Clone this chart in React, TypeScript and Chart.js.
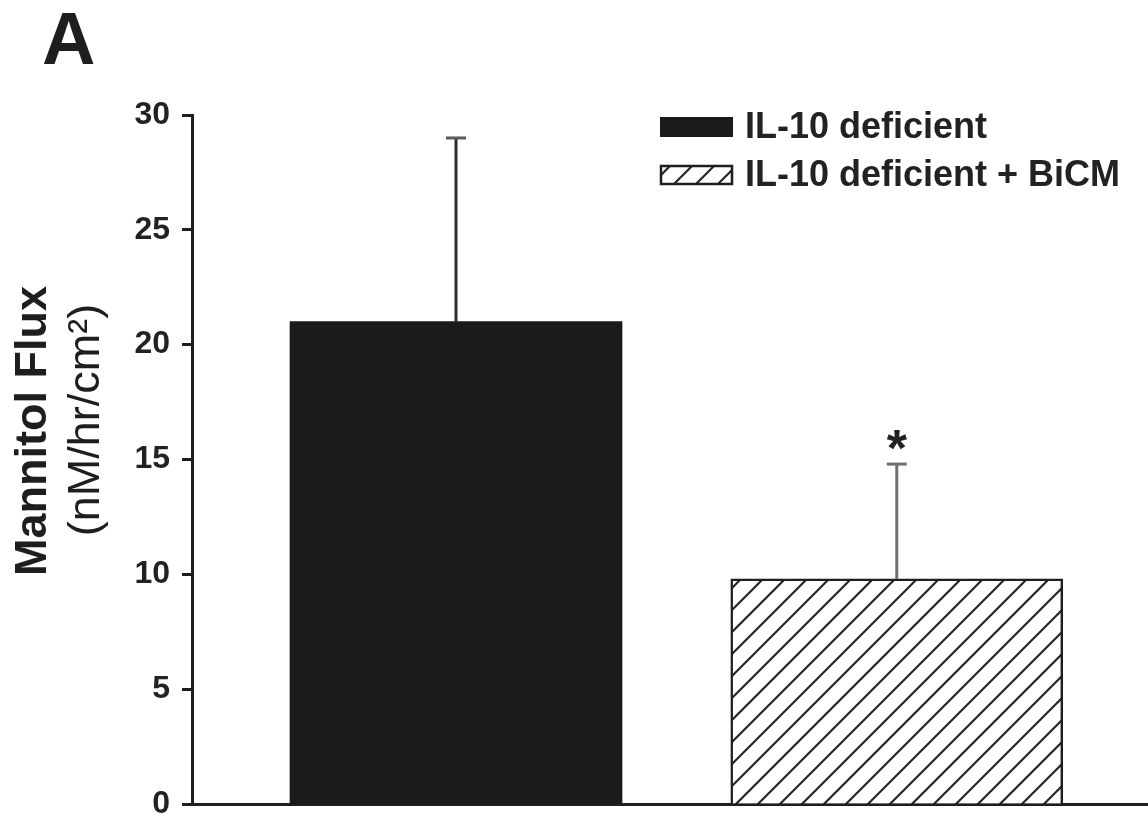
import { useEffect, useRef } from "react";
import { Chart, registerables } from "chart.js";

Chart.register(...registerables);

const categories = ["IL-10 deficient", "IL-10 deficient + BiCM"];
const means = [21.0, 9.8];
const errors = [8.0, 5.0];
const marks = ["", "*"];
const yMin = 0;
const yMax = 30;
const yStep = 5;
const panelLabel = "A";
const yTitleLines = ["Mannitol Flux", "(nM/hr/cm²)"];

const FONT = "'Liberation Sans', Arial, Helvetica, sans-serif";

function makeHatch(): CanvasPattern | string {
  const s = 22;
  const c = document.createElement("canvas");
  c.width = s;
  c.height = s;
  const g = c.getContext("2d");
  if (!g) return "#fff";
  g.fillStyle = "#ffffff";
  g.fillRect(0, 0, s, s);
  g.strokeStyle = "#262626";
  g.lineWidth = 2.2;
  g.lineCap = "square";
  g.beginPath();
  g.moveTo(-2, 2);
  g.lineTo(2, -2);
  g.moveTo(-2, s + 2);
  g.lineTo(s + 2, -2);
  g.moveTo(s - 2, s + 2);
  g.lineTo(s + 2, s - 2);
  g.stroke();
  const p = g.createPattern(c, "repeat");
  return p || "#fff";
}

const errorBarPlugin = {
  id: "errorBars",
  afterDatasetsDraw(chart: any) {
    const ctx = chart.ctx;
    const yScale = chart.scales.y;
    chart.data.datasets.forEach((ds: any, i: number) => {
      const meta = chart.getDatasetMeta(i);
      const el = meta.data[0];
      if (!el) return;
      const x = el.x;
      const yTop = yScale.getPixelForValue(means[i]);
      const yErr = yScale.getPixelForValue(means[i] + errors[i]);
      ctx.save();
      ctx.strokeStyle = i === 0 ? "#2b2b2b" : "#6f6f6f";
      ctx.lineWidth = 3;
      ctx.beginPath();
      ctx.moveTo(x, yTop);
      ctx.lineTo(x, yErr);
      ctx.stroke();
      ctx.strokeStyle = i === 0 ? "#5a5a5a" : "#6f6f6f";
      ctx.beginPath();
      ctx.moveTo(x - 10, yErr);
      ctx.lineTo(x + 10, yErr);
      ctx.stroke();
      if (marks[i]) {
        ctx.fillStyle = "#222";
        ctx.font = `bold 52px ${FONT}`;
        ctx.textAlign = "center";
        ctx.textBaseline = "alphabetic";
        ctx.fillText(marks[i], x, yErr + 2);
      }
      ctx.restore();
    });
  },
};

const decorPlugin = {
  id: "decor",
  afterDraw(chart: any) {
    const ctx = chart.ctx;
    ctx.save();
    // panel label
    ctx.fillStyle = "#1e1e1e";
    ctx.font = `bold 74px ${FONT}`;
    ctx.textAlign = "left";
    ctx.textBaseline = "alphabetic";
    ctx.fillText(panelLabel, 42, 64);

    // y title (two lines, rotated)
    ctx.save();
    ctx.translate(34, 431);
    ctx.rotate(-Math.PI / 2);
    ctx.textAlign = "center";
    ctx.textBaseline = "middle";
    ctx.font = `bold 45px ${FONT}`;
    ctx.fillText(yTitleLines[0], 0, 0);
    ctx.restore();
    ctx.save();
    ctx.translate(87, 420);
    ctx.rotate(-Math.PI / 2);
    ctx.textAlign = "center";
    ctx.textBaseline = "middle";
    ctx.font = `45px ${FONT}`;
    ctx.fillText(yTitleLines[1], 0, 0);
    ctx.restore();

    // legend
    chart.data.datasets.forEach((ds: any, i: number) => {
      const bx = 660;
      const by = 117 + i * 48;
      const bw = 73;
      const bh = 20;
      ctx.fillStyle = ds.backgroundColor;
      ctx.fillRect(bx, by, bw, bh);
      if (ds.borderWidth) {
        ctx.strokeStyle = "#1e1e1e";
        ctx.lineWidth = 2.5;
        ctx.strokeRect(bx + 1, by + 1, bw - 2, bh - 2);
      }
      ctx.fillStyle = "#222";
      ctx.font = `bold 36px ${FONT}`;
      ctx.textAlign = "left";
      ctx.textBaseline = "middle";
      ctx.fillText(ds.label, 745, by + bh / 2 + 1);
    });
    ctx.restore();
  },
};

export default function App() {
  const ref = useRef<HTMLCanvasElement | null>(null);

  useEffect(() => {
    document.body.style.margin = "0";
    const canvas = ref.current;
    if (!canvas) return;
    const hatch = makeHatch();
    const fills = ["#1b1b1b", hatch];
    const chart = new Chart(canvas, {
      type: "bar",
      data: {
        datasets: categories.map((name, i) => ({
          label: name,
          data: [{ x: i + 1, y: means[i] }],
          backgroundColor: fills[i] as any,
          borderColor: "#1e1e1e",
          borderWidth: i === 0 ? 0 : 2.5,
          borderSkipped: "bottom",
          barThickness: 332,
          grouped: false,
        })),
      },
      options: {
        responsive: false,
        animation: false,
        devicePixelRatio: 1,
        layout: { padding: { top: 115, right: 0, left: 0, bottom: 0 } },
        plugins: {
          legend: { display: false },
          tooltip: { enabled: false },
        },
        scales: {
          x: {
            type: "linear",
            offset: false,
            min: 0.401,
            max: 2.57,
            ticks: { display: false },
            grid: { display: false },
            border: { display: true, color: "#1e1e1e", width: 3 },
            afterFit(scale: any) {
              scale.height = 14;
            },
          },
          y: {
            min: yMin,
            max: yMax,
            ticks: {
              stepSize: yStep,
              color: "#222",
              padding: 12,
              font: { family: FONT, size: 32, weight: "bold" },
            },
            grid: {
              drawOnChartArea: false,
              drawTicks: true,
              tickLength: 10,
              tickWidth: 3,
              tickColor: "#1e1e1e",
            },
            border: { display: true, color: "#1e1e1e", width: 3 },
            afterFit(scale: any) {
              scale.width = 192;
              scale.paddingTop = 0;
              scale.paddingBottom = 0;
            },
          },
        },
      },
      plugins: [errorBarPlugin, decorPlugin],
    });
    return () => chart.destroy();
  }, []);

  return <canvas ref={ref} width={1148} height={818} style={{ display: "block" }} />;
}
